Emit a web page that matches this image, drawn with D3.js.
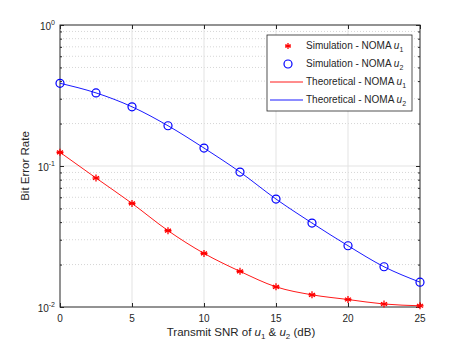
<!DOCTYPE html>
<html><head><meta charset="utf-8">
<script src="https://cdn.jsdelivr.net/npm/d3@7"></script>
<style>body{margin:0;background:#fff}svg{display:block;font-family:"Liberation Sans",Arial,sans-serif}</style>
</head><body>
<svg id="c" width="464" height="348"></svg>
<script>
const snr = [0, 2.5, 5, 7.5, 10, 12.5, 15, 17.5, 20, 22.5, 25];
const berU1 = [0.125, 0.0822, 0.0543, 0.0348, 0.0240, 0.0179, 0.0139, 0.0122, 0.0113, 0.0105, 0.0102];
const berU2 = [0.386, 0.330, 0.263, 0.193, 0.134, 0.0906, 0.0583, 0.0394, 0.0272, 0.0193, 0.0150];
const xTicks = [0, 5, 10, 15, 20, 25];
const yTicks = [0.01, 0.1, 1];
const yTickExp = ["-2", "-1", "0"];
const legendLabels = [["Simulation - NOMA ", "1"], ["Simulation - NOMA ", "2"], ["Theoretical - NOMA ", "1"], ["Theoretical - NOMA ", "2"]];

const L = 60, R = 420, T = 25, B = 307;
const svg = d3.select("#c");
const x = d3.scaleLinear().domain([0, 25]).range([L, R]);
const y = d3.scaleLog().domain([0.01, 1]).range([B, T]);
const axisCol = "#262626";

// grid
const minor = [];
[0.01, 0.1].forEach(d => { for (let k = 2; k <= 9; k++) minor.push(d * k); });
svg.append("g").selectAll("line").data(minor).join("line")
  .attr("x1", L).attr("x2", R).attr("y1", d => y(d)).attr("y2", d => y(d))
  .attr("stroke", "#d6d6d6").attr("stroke-width", 1).attr("stroke-dasharray", "1,2");
svg.append("g").selectAll("line").data(xTicks.slice(1, -1)).join("line")
  .attr("x1", d => x(d)).attr("x2", d => x(d)).attr("y1", T).attr("y2", B)
  .attr("stroke", "#e3e3e3").attr("stroke-width", 1);
svg.append("line").attr("x1", L).attr("x2", R).attr("y1", y(0.1)).attr("y2", y(0.1))
  .attr("stroke", "#e3e3e3").attr("stroke-width", 1);

// axes with inward ticks
function clean(g) { g.select(".domain").remove(); g.selectAll("line").attr("stroke", axisCol); }
svg.append("g").attr("transform", `translate(0,${B})`)
  .call(d3.axisBottom(x).tickValues(xTicks).tickSize(-4).tickFormat("")).call(clean);
svg.append("g").attr("transform", `translate(0,${T})`)
  .call(d3.axisTop(x).tickValues(xTicks).tickSize(-4).tickFormat("")).call(clean);
svg.append("g").attr("transform", `translate(${L},0)`)
  .call(d3.axisLeft(y).tickValues(yTicks).tickSize(-4).tickFormat("")).call(clean);
svg.append("g").attr("transform", `translate(${R},0)`)
  .call(d3.axisRight(y).tickValues(yTicks).tickSize(-4).tickFormat("")).call(clean);
// minor ticks
svg.append("g").attr("transform", `translate(${L},0)`)
  .call(d3.axisLeft(y).tickValues(minor).tickSize(-2).tickFormat("")).call(clean);
svg.append("g").attr("transform", `translate(${R},0)`)
  .call(d3.axisRight(y).tickValues(minor).tickSize(-2).tickFormat("")).call(clean);

svg.append("rect").attr("x", L).attr("y", T).attr("width", R - L).attr("height", B - T)
  .attr("fill", "none").attr("stroke", axisCol).attr("stroke-width", 1);

// tick labels
svg.append("g").selectAll("text").data(xTicks).join("text")
  .attr("x", d => x(d)).attr("y", B + 15).attr("text-anchor", "middle")
  .attr("font-size", 10).attr("fill", axisCol).text(d => d);
const yl = svg.append("g").selectAll("text").data(yTicks).join("text")
  .attr("x", 55).attr("y", d => y(d) + 5).attr("text-anchor", "end")
  .attr("font-size", 10).attr("fill", axisCol);
yl.append("tspan").text("10");
yl.append("tspan").attr("dy", -5).attr("font-size", 7).text((d, i) => yTickExp[i]);

// axis labels
const xl = svg.append("text").attr("x", 241).attr("y", 336).attr("text-anchor", "middle")
  .attr("font-size", 11.5).attr("fill", axisCol);
xl.append("tspan").text("Transmit SNR of ");
xl.append("tspan").attr("font-style", "italic").text("u");
xl.append("tspan").attr("dy", 3).attr("font-size", 8).text("1");
xl.append("tspan").attr("dy", -3).text(" & ");
xl.append("tspan").attr("font-style", "italic").text("u");
xl.append("tspan").attr("dy", 3).attr("font-size", 8).text("2");
xl.append("tspan").attr("dy", -3).text(" (dB)");
svg.append("text").attr("transform", "translate(29,166) rotate(-90)").attr("text-anchor", "middle")
  .attr("font-size", 11.5).attr("fill", axisCol).text("Bit Error Rate");

// lines
const line = d3.line().x(d => x(d[0])).y(d => y(d[1])).curve(d3.curveMonotoneX);
const d1 = snr.map((s, i) => [s, berU1[i]]);
const d2 = snr.map((s, i) => [s, berU2[i]]);
svg.append("path").attr("d", line(d1)).attr("fill", "none").attr("stroke", "#ff0000").attr("stroke-width", 0.9);
svg.append("path").attr("d", line(d2)).attr("fill", "none").attr("stroke", "#0000ff").attr("stroke-width", 0.9);

// markers
function star(g, cx, cy, s, col) {
  [0, 60, 120].forEach(t => {
    const r = t * Math.PI / 180;
    g.append("line").attr("x1", cx - s * Math.sin(r)).attr("y1", cy - s * Math.cos(r))
      .attr("x2", cx + s * Math.sin(r)).attr("y2", cy + s * Math.cos(r))
      .attr("stroke", col).attr("stroke-width", 1.3);
  });
  g.append("line").attr("x1", cx - s).attr("x2", cx + s).attr("y1", cy).attr("y2", cy)
    .attr("stroke", col).attr("stroke-width", 1.3);
}
const sg = svg.append("g");
d1.forEach(d => star(sg, x(d[0]), y(d[1]), 3.5, "#ff0000"));
svg.append("g").selectAll("circle").data(d2).join("circle")
  .attr("cx", d => x(d[0])).attr("cy", d => y(d[1])).attr("r", 4)
  .attr("fill", "none").attr("stroke", "#0000ff").attr("stroke-width", 1.2);

// legend
const lg = svg.append("g");
lg.append("rect").attr("x", 267).attr("y", 35).attr("width", 145).attr("height", 76)
  .attr("fill", "#fff").attr("stroke", axisCol).attr("stroke-width", 0.8);
const rows = [46, 64, 82, 100];
star(lg, 288, rows[0], 3, "#ff0000");
lg.append("circle").attr("cx", 288).attr("cy", rows[1]).attr("r", 4).attr("fill", "none").attr("stroke", "#0000ff").attr("stroke-width", 1.2);
lg.append("line").attr("x1", 270).attr("x2", 303).attr("y1", rows[2]).attr("y2", rows[2]).attr("stroke", "#ff0000").attr("stroke-width", 0.9);
lg.append("line").attr("x1", 270).attr("x2", 303).attr("y1", rows[3]).attr("y2", rows[3]).attr("stroke", "#0000ff").attr("stroke-width", 0.9);
legendLabels.forEach((lab, i) => {
  const t = lg.append("text").attr("x", 306).attr("y", rows[i] + 3).attr("font-size", 10).attr("fill", axisCol);
  t.append("tspan").text(lab[0]);
  t.append("tspan").attr("font-style", "italic").text("u");
  t.append("tspan").attr("dy", 3).attr("font-size", 7).text(lab[1]);
});
</script>
</body></html>
